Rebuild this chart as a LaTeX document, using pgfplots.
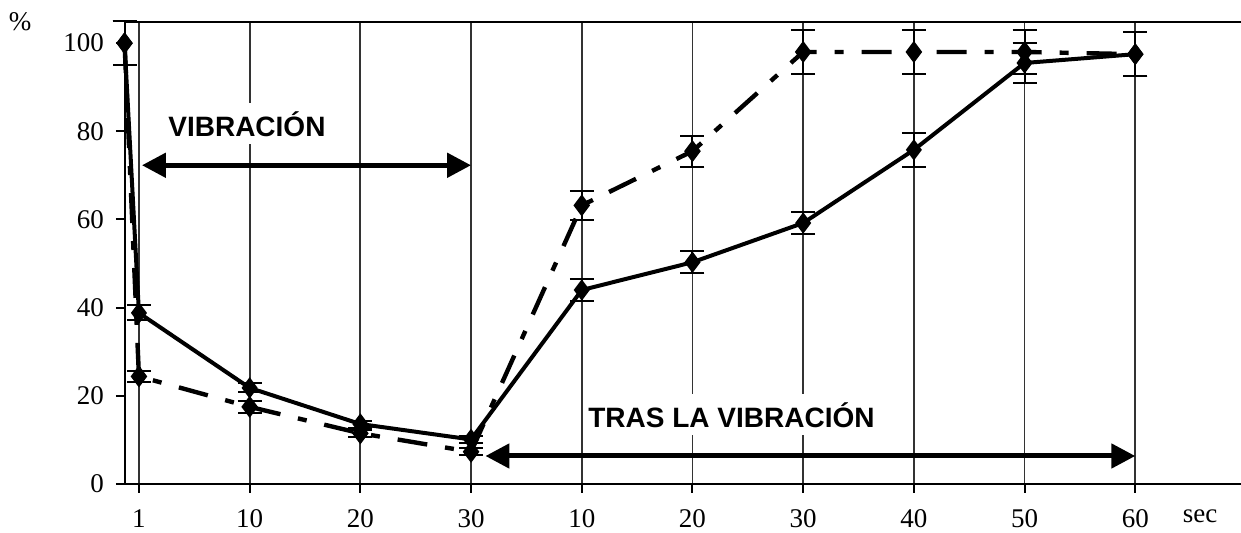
\documentclass[border=0pt]{standalone}
\usepackage{fontspec}
\setmainfont{Liberation Serif}
\newfontfamily\arialf{Liberation Sans}
\usepackage{pgfplots}
\usepackage{pgfplotstable}
\pgfplotsset{compat=1.18}
\usetikzlibrary{arrows.meta}
\pgfplotstableread{
x y e
-0.13 100 5
0 38.8 1.7
1 21.8 1.0
2 13.6 0.8
3 10.1 0.8
4 44.0 2.4
5 50.3 2.5
6 59.2 2.6
7 75.8 3.8
8 95.5 4.6
9 97.5 5
}\solid
\pgfplotstableread{
x y e
-0.13 100 5
0 24.4 1.3
1 17.5 1.3
2 11.5 0.8
3 7.3 0.8
4 63.2 3.3
5 75.5 3.5
6 98 5
7 98 5
8 98 5
9 97.5 5
}\dashed
\begin{document}
\begin{tikzpicture}
\path[use as bounding box] (-62.5pt,-24.5pt) rectangle (558pt,242pt);
\begin{axis}[
 at={(0,0)}, anchor=south west,
 scale only axis, width=558pt, height=231pt,
 xmin=-0.126, xmax=9.955, ymin=0, ymax=104.8,
 axis x line*=box, axis y line*=left,
 tick pos=left,
 xtick={0,...,9}, xticklabels={1,10,20,30,10,20,30,40,50,60},
 ytick={0,20,...,100},
 tick align=outside, major tick length=4.5pt,
 xmajorgrids, grid style={black!80, line width=0.9pt},
 axis line style={line width=1pt},
 tick style={line width=1pt, black},
 /pgf/number format/assume math mode=true,
 tick label style={font=\fontsize{13.5}{15}\selectfont},
 xticklabel style={inner ysep=0pt, yshift=-8pt},
 yticklabel style={xshift=-2.5pt},
 clip=false,
]
\addplot[black, line width=2pt, mark=diamond*, mark size=3.7pt, mark options={solid},
  error bars/.cd, y dir=both, y explicit,
  error bar style={line width=1pt, solid},
  error mark options={rotate=90, line width=1pt, mark size=6pt}]
  table[x=x, y=y, y error=e] {\solid};
\addplot[black, line width=2.2pt, dash pattern=on 15pt off 9pt on 4.5pt off 9pt,
  mark=diamond*, mark size=3.7pt, mark options={solid},
  error bars/.cd, y dir=both, y explicit,
  error bar style={line width=1pt, solid},
  error mark options={rotate=90, line width=1pt, mark size=6pt, solid}]
  table[x=x, y=y, y error=e] {\dashed};
\draw[line width=2.5pt, {Triangle[length=12pt,width=12pt]}-{Triangle[length=12pt,width=12pt]}]
  (axis cs:0.027,72.3) -- (axis cs:3.0,72.3);
\draw[line width=2.5pt, {Triangle[length=12pt,width=12pt]}-{Triangle[length=12pt,width=12pt]}]
  (axis cs:3.13,6.35) -- (axis cs:9,6.35);
\node[fill=white, inner xsep=1pt, inner ysep=4pt, anchor=base west,
  font=\arialf\bfseries\fontsize{14}{16}\selectfont] at (axis cs:0.244,78.9) {VIBRACIÓN};
\node[fill=white, inner xsep=1pt, inner ysep=4pt, anchor=base west,
  font=\arialf\bfseries\fontsize{14}{16}\selectfont] at (axis cs:4.038,12.9) {TRAS LA VIBRACIÓN};
\end{axis}
\node[font=\fontsize{13.5}{15}\selectfont] at (-52.5pt,231pt) {\%};
\node[anchor=base, inner sep=0pt, font=\fontsize{13.5}{15}\selectfont] at (537.5pt,-19.5pt) {sec};
\end{tikzpicture}
\end{document}
